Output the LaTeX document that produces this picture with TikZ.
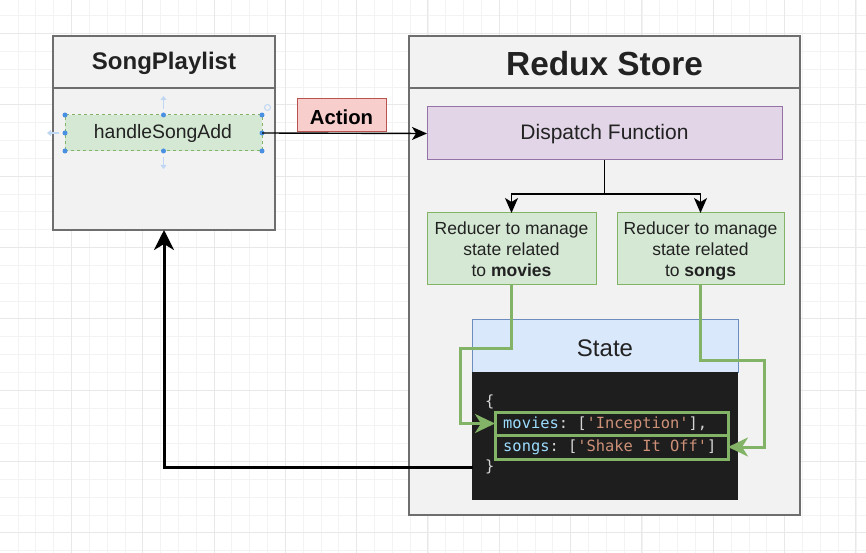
\documentclass[tikz,border=0pt]{standalone}
\usepackage{fontspec}
\setmainfont{Liberation Sans}
\setmonofont{DejaVu Sans Mono}
\usetikzlibrary{arrows.meta}
\definecolor{gridminor}{HTML}{F3F3F3}
\definecolor{gridmajor}{HTML}{E8E8E8}
\definecolor{contfill}{HTML}{F2F2F2}
\definecolor{contline}{HTML}{6E6E6E}
\definecolor{greenfill}{HTML}{D5E8D4}
\definecolor{greenline}{HTML}{82B366}
\definecolor{purplefill}{HTML}{E1D5E7}
\definecolor{purpleline}{HTML}{9673A6}
\definecolor{redfill}{HTML}{F8CECC}
\definecolor{redline}{HTML}{B85450}
\definecolor{bluefill}{HTML}{DAE8FC}
\definecolor{blueline}{HTML}{6C8EBF}
\definecolor{codebg}{HTML}{1E1E1E}
\definecolor{codekey}{HTML}{9CDCFE}
\definecolor{codepunct}{HTML}{D4D4D4}
\definecolor{codestr}{HTML}{CE9178}
\definecolor{handle}{HTML}{4A90E2}
\definecolor{handlefaint}{HTML}{BFD7F2}
\definecolor{txt}{HTML}{222222}
\tikzset{
  box/.style={draw, anchor=north west, inner sep=0pt, outer sep=0pt, text=txt},
  container/.style={box, fill=contfill, draw=contline, line width=1.4pt},
  greenbox/.style={box, fill=greenfill, draw=greenline, line width=1pt},
  conn/.style={draw=black, line width=1.4pt, -{Stealth[length=15pt,width=13pt,inset=4pt]}},
  greenconn/.style={draw=greenline, line width=3pt, -{Stealth[length=20pt,width=19pt,inset=6pt]}},
  bigconn/.style={draw=black, line width=3pt, -{Stealth[length=20pt,width=20pt,inset=6pt]}},
  codetxt/.style={anchor=west, inner sep=0pt, font=\ttfamily\fontsize{15.4}{18}\selectfont},
  hdot/.style={circle, fill=handle, inner sep=0pt, minimum size=5pt},
  redtxt/.style={text=txt, font=\fontsize{17.5}{21}\selectfont, align=center, anchor=north, inner sep=0pt},
}
\begin{document}
\begin{tikzpicture}[x=1pt, y=-1pt]
\useasboundingbox (0,0) rectangle (866,553);
\fill[white] (0,0) rectangle (866,553);
% grid
\foreach \i in {1,...,48} {\draw[gridminor, line width=0.6pt] ({17.83*\i},0) -- ({17.83*\i},553);}
\foreach \i in {0,...,30} {\draw[gridminor, line width=0.6pt] (0,{15.57+17.83*\i}) -- (866,{15.57+17.83*\i});}
\foreach \i in {1,...,12} {\draw[gridmajor, line width=0.7pt] ({71.3*\i},0) -- ({71.3*\i},553);}
\foreach \i in {0,...,7} {\draw[gridmajor, line width=0.7pt] (0,{33.4+71.3*\i}) -- (866,{33.4+71.3*\i});}

% SongPlaylist container
\node[container, minimum width=222pt, minimum height=194pt] (playlist) at (53,36) {};
\draw[contline, line width=1.4pt] (53,88) -- (275,88);
\node[text=txt, font=\bfseries\fontsize{24}{28}\selectfont] (pltitle) at (164,63) {SongPlaylist};

% handleSongAdd (selected)
\node[greenbox, dashed, minimum width=197pt, minimum height=36pt] (handlebox) at (65,115) {};
\node[text=txt, font=\fontsize{19.4}{23}\selectfont] (handletxt) at (163,133) {handleSongAdd};
\foreach \p in {(65,115),(163.5,115),(262,115),(65,133),(262,133),(65,151),(163.5,151),(262,151)} {\node[hdot] at \p {};}
\draw[handlefaint, line width=1.6pt, -{Triangle[length=4pt,width=6pt]}] (163.5,109) -- (163.5,96);
\draw[handlefaint, line width=1.6pt, -{Triangle[length=4pt,width=6pt]}] (163.5,157) -- (163.5,169);
\draw[handlefaint, line width=1.6pt, -{Triangle[length=4pt,width=6pt]}] (59,133) -- (47,133);
\draw[handlefaint, line width=1pt] (267.5,107.5) circle (3pt);

% Redux Store container
\node[container, minimum width=391pt, minimum height=479pt] (store) at (409,36) {};
\draw[contline, line width=1.4pt] (409,88) -- (800,88);
\node[text=txt, font=\bfseries\fontsize{33.4}{38}\selectfont] (storetitle) at (604.5,64) {Redux Store};

% Dispatch Function
\node[box, fill=purplefill, draw=purpleline, line width=1pt, minimum width=355pt, minimum height=53pt] (dispatch) at (427,107) {};
\node[text=txt, font=\fontsize{21}{25}\selectfont] (disptxt) at (604.5,134.5) {Dispatch Function};

% Reducers
\node[greenbox, minimum width=169pt, minimum height=71pt] (red1) at (427,213) {};
\node[redtxt] (red1txt) at (511.5,220) {\strut Reducer to manage\\\strut state related\\\strut to \textbf{movies}};
\node[greenbox, minimum width=167pt, minimum height=71pt] (red2) at (617,213) {};
\node[redtxt] (red2txt) at (700.5,220) {\strut Reducer to manage\\\strut state related\\\strut to \textbf{songs}};

% State
\node[box, fill=bluefill, draw=blueline, line width=1pt, minimum width=266pt, minimum height=53pt] (state) at (472,319) {};
\node[text=txt, font=\fontsize{24}{28}\selectfont] (statetxt) at (605,348) {State};
\node[box, fill=codebg, draw=codebg, minimum width=265pt, minimum height=127pt] (code) at (472.5,372) {};
\node[codetxt, text=codepunct] (ob) at (485,402) {\{};
\node[box, draw=greenline, line width=3pt, minimum width=233pt, minimum height=23pt] (movbox) at (495,412) {};
\node[box, draw=greenline, line width=3pt, minimum width=233pt, minimum height=24pt] (songbox) at (495,435) {};
\node[codetxt] (movtxt) at (503,424) {\textcolor{codekey}{movies}\textcolor{codepunct}{: [}\textcolor{codestr}{'Inception'}\textcolor{codepunct}{],}};
\node[codetxt] (songtxt) at (503,447) {\textcolor{codekey}{songs}\textcolor{codepunct}{: [}\textcolor{codestr}{'Shake It Off'}\textcolor{codepunct}{]}};
\node[codetxt, text=codepunct] (cb) at (485,467) {\}};

% Action edge
\draw[conn] (handlebox.east) -- (dispatch.west);
\node[box, fill=redfill, draw=redline, line width=1pt, minimum width=89pt, minimum height=33pt] (action) at (297,99) {};
\node[text=black, font=\bfseries\fontsize{20.3}{24}\selectfont] (actiontxt) at (341.5,117) {Action};

% Dispatch to reducers
\coordinate (split) at (604.5,194);
\draw[black, line width=1.4pt] (dispatch.south) -- (split);
\draw[conn] (split) -| (red1.north);
\draw[conn] (split) -| (red2.north);

% Green connectors
\coordinate (g1a) at (460,348);
\coordinate (g1b) at (460,423.5);
\draw[greenconn] (red1.south) |- (g1a) -- (g1b) -- (movbox.west);
\coordinate (g2a) at (764,360);
\coordinate (g2b) at (764,447);
\draw[greenconn] (red2.south) |- (g2a) -- (g2b) -- (songbox.east);

% Return arrow
\draw[bigconn] (code.west |- cb) -| (playlist.south);
\end{tikzpicture}
\end{document}
